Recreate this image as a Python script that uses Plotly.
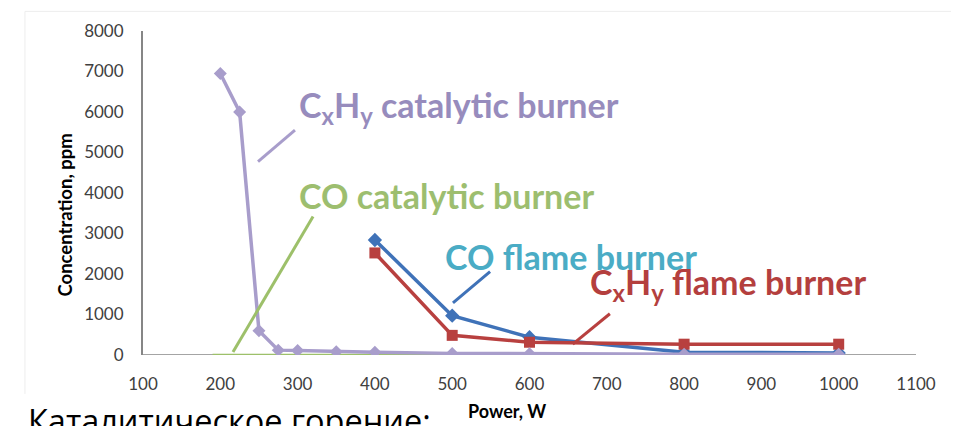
import plotly.graph_objects as go

# ---- data ----
power_cat = [200, 225, 250, 275, 300, 350, 400, 500, 600, 800, 1000]
cxhy_cat = [6950, 6000, 600, 120, 110, 80, 70, 40, 30, 20, 20]

power_co_cat = [190, 200, 225, 250, 275, 300, 350, 400, 500, 600, 800, 1000]
co_cat = [0, 0, 0, 0, 0, 0, 0, 0, 0, 0, 0, 0]

power_flame = [400, 500, 600, 800, 1000]
co_flame = [2840, 970, 440, 70, 50]
cxhy_flame = [2520, 485, 315, 267, 267]

x_ticks = [100, 200, 300, 400, 500, 600, 700, 800, 900, 1000, 1100]
y_ticks = [0, 1000, 2000, 3000, 4000, 5000, 6000, 7000, 8000]

PURPLE_LINE = "#A89DCB"
PURPLE_TXT = "#978CBD"
GREEN = "#9DC06A"
GREEN_TXT = "#9DBE6F"
BLUE = "#3F72B8"
TEAL = "#4AACC5"
RED = "#B8403F"
RED_TXT = "#B43F3E"

fig = go.Figure()
fig.add_trace(go.Scatter(x=power_co_cat, y=co_cat, mode="lines",
                         line=dict(color=GREEN, width=2.5), showlegend=False))
fig.add_trace(go.Scatter(x=power_flame, y=co_flame, mode="lines+markers",
                         line=dict(color=BLUE, width=3.5),
                         marker=dict(symbol="diamond", size=11, color=BLUE), showlegend=False))
fig.add_trace(go.Scatter(x=power_flame, y=cxhy_flame, mode="lines+markers",
                         line=dict(color=RED, width=3.5),
                         marker=dict(symbol="square", size=11, color=RED), showlegend=False))
fig.add_trace(go.Scatter(x=power_cat, y=cxhy_cat, mode="lines+markers",
                         line=dict(color=PURPLE_LINE, width=3.5),
                         marker=dict(symbol="diamond", size=10, color=PURPLE_LINE), showlegend=False))

# leader lines
leaders = [
    ((248.8, 4776), (296.6, 5551), PURPLE_LINE),
    ((216.4, 73), (320, 3418), GREEN),
    ((501, 1285), (549, 2060), BLUE),
    ((656, 267), (704, 1018), RED),
]
for (x0, y0), (x1, y1), c in leaders:
    fig.add_shape(type="line", x0=x0, y0=y0, x1=x1, y1=y1, xref="x", yref="y",
                  line=dict(color=c, width=3))

FONT = "Lato"
labels = [
    ("C<sub>x</sub>H<sub>y</sub> catalytic burner", 299, 6133, PURPLE_TXT),
    ("CO catalytic burner", 299, 3950, GREEN_TXT),
    ("CO flame burner", 488, 2424, TEAL),
    ("C<sub>x</sub>H<sub>y</sub> flame burner", 676, 1745, RED_TXT),
]
for t, x, y, c in labels:
    fig.add_annotation(text="<b>" + t + "</b>", x=x, y=y, xref="x", yref="y",
                       xanchor="left", yanchor="middle", showarrow=False,
                       font=dict(family=FONT, size=34, color=c))

fig.add_annotation(text="<b>Concentration, ppm</b>", x=-0.118, y=0.433,
                   xref="paper", yref="paper", textangle=-90, showarrow=False,
                   font=dict(family=FONT, size=18.5, color="#000000"))
fig.add_annotation(text="<b>Power, W</b>", x=0.471, y=-0.212,
                   xref="paper", yref="paper", showarrow=False,
                   font=dict(family=FONT, size=18, color="#000000"))
fig.add_annotation(text="Каталитическое горение:", x=-0.152, y=-0.128,
                   xref="paper", yref="paper", xanchor="left", yanchor="top",
                   showarrow=False,
                   font=dict(family="Open Sans", size=32.5, color="#000000"))

# faint frame of the original picture (top and left edges)
fig.add_shape(type="line", x0=-0.1527, x1=1.06, y0=1.0606, y1=1.0606,
              xref="paper", yref="paper", line=dict(color="#EDEDED", width=1))
fig.add_shape(type="line", x0=-0.1527, x1=-0.1527, y0=-0.12, y1=1.0606,
              xref="paper", yref="paper", line=dict(color="#EDEDED", width=1))

fig.update_layout(
    width=951, height=418,
    margin=dict(l=135, r=43, t=17, b=71),
    paper_bgcolor="white", plot_bgcolor="white",
    xaxis=dict(range=[100, 1100], tickvals=x_ticks, showgrid=False, zeroline=False,
               showline=False, ticks="", ticklabelstandoff=17,
               tickfont=dict(family=FONT, size=17, color="#404040")),
    yaxis=dict(range=[0, 8000], tickvals=y_ticks, showgrid=False, zeroline=False,
               showline=True, linecolor="#868686", linewidth=2, ticks="",
               ticklabelstandoff=14,
               tickfont=dict(family=FONT, size=17, color="#404040")),
)
# x axis baseline at y=0
fig.add_shape(type="line", x0=100, x1=1100, y0=0, y1=0, xref="x", yref="y",
              line=dict(color="#868686", width=1.5), layer="below")

fig.write_html("out.html")
